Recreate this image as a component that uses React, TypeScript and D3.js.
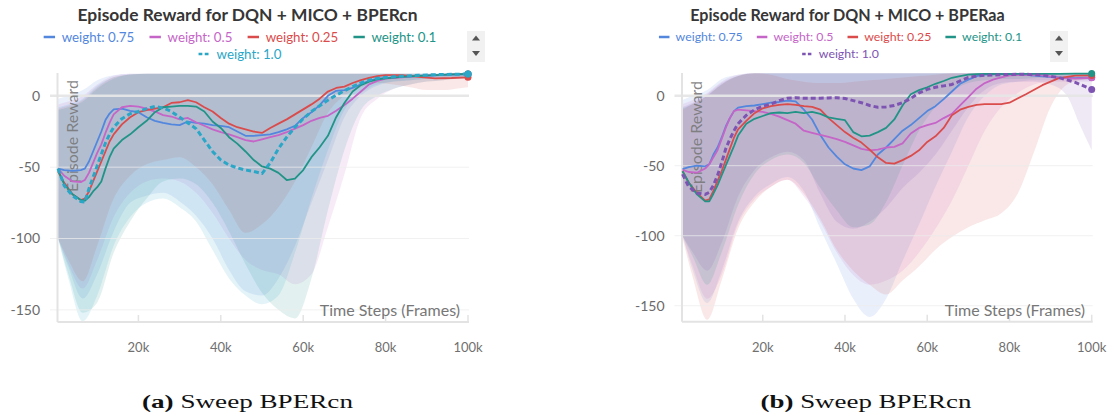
import React from 'react';
import * as d3 from 'd3';

// Time steps (thousands of frames) at which the smoothed mean curves are sampled
const lineSteps = [
  0.5, 2, 4, 6, 7, 8, 9, 10, 11, 12, 13, 14,
  16, 18, 20, 22, 24, 26, 28, 30, 32, 34, 36, 38, 40, 42, 44, 46, 48, 50,
  52, 54, 56, 58, 60, 62, 64, 66, 68, 70, 72, 74, 76, 78, 80,
  84, 88, 92, 96, 100,
];

// Time steps (thousands of frames) at which the min/max envelopes are sampled
const bandSteps = [0.5, 3, 6.5, 10, 14, 18, 22, 26, 30, 34, 38, 42, 46, 50, 54, 58, 62, 66, 70, 74, 78, 82, 86, 90, 94, 97, 100];

const weightLabels = ['weight: 0.75', 'weight: 0.5', 'weight: 0.25', 'weight: 0.1', 'weight: 1.0'];

const yTicks = [0, -50, -100, -150];
const xTicks = [20, 40, 60, 80, 100];
const xTickLabels = ['20k', '40k', '60k', '80k', '100k'];

// ---- DQN + MICO + BPERcn ----
const cnMean075 = [
  -51, -52, -52.6, -52, -51, -46, -39, -32, -25, -17, -12.4, -9.5,
  -9, -10.5, -11.5, -15, -17.5, -19, -20, -20.5, -18, -19, -19.5, -20.5, -21, -22, -25, -28, -28, -27.5,
  -27, -25.5, -23.5, -21, -15.5, -11.5, -6.5, 0, 3.5, 4, 5.5, 8, 10.5, 12, 12.5,
  13.3, 13.8, 14.3, 14.8, 15.2,
];
const cnMean05 = [
  -51, -56, -60, -60.5, -59, -54, -47, -40, -34, -26, -19, -13,
  -8, -7, -7.5, -9, -11, -13.5, -14.5, -16.5, -15.5, -18.5, -21, -23.5, -25.5, -27, -29, -31, -32, -30.5,
  -29, -27.5, -25.5, -23, -20.5, -17.5, -15.5, -14, -10.5, -6.5, -2, 3, 8, 10.5, 12,
  13, 14, 14.5, 15, 15.3,
];
const cnMean025 = [
  -53, -61, -69, -73, -72, -67, -60, -53, -46, -39, -32, -27,
  -20, -15, -11.5, -10, -9, -8, -5, -4.5, -3, -4.5, -8, -11, -15.5, -19.5, -22, -23.5, -25, -26,
  -22.5, -19.5, -16.5, -13, -9.5, -6, -2, 3, 5.5, 6.5, 9, 11, 12.5, 13.8, 14.5,
  14.5, 13.3, 12.3, 12.5, 13,
];
const cnMean01 = [
  -52, -62, -69, -73, -73.5, -71, -67, -64, -60, -51, -43, -37,
  -31, -27, -22, -17.5, -11.5, -8, -7.5, -7, -7, -7.5, -11, -18, -22.5, -29, -33.5, -39, -45, -49.5,
  -51, -54, -59, -58, -52, -43, -36, -28, -15, -5, 3, 7.5, 10, 11.5, 12.3,
  13.3, 14, 14.5, 15, 15.3,
];
const cnMean10 = [
  -51, -63, -70, -74, -74.5, -65, -57, -49, -41, -33, -27, -22,
  -16, -12.5, -11, -9, -7.5, -8.5, -11, -15, -19, -23, -31, -39, -45, -48.5, -50.5, -52, -53, -54.5,
  -47, -37, -29, -22, -16, -11, -7, -3, 0.5, 3.5, 6.5, 9, 11, 12.3, 13,
  13.8, 14.4, 14.8, 15.1, 15.3,
];

const cnHi075 = [-2, 0, 4, 11, 14.5, 15.5, 15.5, 15.5, 15.5, 15.5, 15.5, 15.5, 15.5, 15.5, 15.5, 15.5, 15.5, 15.5, 15.5, 15.5, 15.5, 15.5, 15.5, 15.5, 15.5, 15.5, 15.5];
const cnLo075 = [-100, -120, -142, -125, -95, -75, -70, -68, -74, -84, -100, -122, -137, -140, -128, -105, -75, -45, -15, 0, 7, 10, 11, 12, 12.5, 13, 13.5];
const cnHi05 = [-6, -4, 0, 8, 14, 15.5, 15.5, 15.5, 15.5, 15.5, 15.5, 15.5, 15.5, 15.5, 15.5, 15.5, 15.5, 15.5, 15.5, 15.5, 15.5, 15.5, 15.5, 15.5, 15.5, 15.5, 15.5];
const cnLo05 = [-100, -118, -135, -115, -85, -68, -60, -58, -60, -68, -82, -100, -115, -122, -125, -132, -125, -92, -55, -15, -2, 5, 8, 10, 11, 12, 12];
const cnHi025 = [-9, -7, -3, 6, 13, 15, 15.5, 15.5, 15.5, 15.5, 15.5, 15.5, 15.5, 15.5, 15.5, 15.5, 15.5, 15.5, 15.5, 15.5, 15.5, 15.5, 15.5, 15, 15, 15, 15];
const cnLo025 = [-100, -115, -130, -105, -72, -56, -48, -45, -43, -50, -62, -80, -96, -90, -78, -60, -36, -12, 0, 6, 9, 8, 6, 4, 4, 5, 6];
const cnHi01 = [-10, -8, -4, 5, 12, 15, 15.5, 15.5, 15.5, 15.5, 15.5, 15.5, 15.5, 15.5, 15.5, 15.5, 15.5, 15.5, 15.5, 15.5, 15.5, 15.5, 15.5, 15.5, 15.5, 15.5, 15.5];
const cnLo01 = [-100, -125, -152, -145, -110, -88, -72, -60, -58, -62, -75, -95, -118, -138, -150, -156, -128, -80, -38, -10, 0, 5, 8, 10, 11, 12, 12.5];
const cnHi10 = [-8, -6, -2, 7, 13, 15, 15.5, 15.5, 15.5, 15.5, 15.5, 15.5, 15.5, 15.5, 15.5, 15.5, 15.5, 15.5, 15.5, 15.5, 15.5, 15.5, 15.5, 15.5, 15.5, 15.5, 15.5];
const cnLo10 = [-100, -128, -158, -140, -105, -85, -75, -72, -78, -88, -108, -128, -140, -146, -140, -110, -72, -38, -10, 2, 8, 10, 11, 12, 12.5, 13, 13.5];

// ---- DQN + MICO + BPERaa ----
const aaMean075 = [
  -52.5, -51, -50, -50.5, -49, -42, -37, -30, -22, -16, -11, -8.5,
  -7.5, -7, -6, -5, -4.5, -3.5, -4, -10, -17, -28, -37, -43.5, -49, -52, -53.2, -50.5, -42, -37,
  -31, -25, -21, -16, -11, -7.5, -2.5, 3, 8.5, 11.5, 14, 15, 15.3, 15.5, 15.5,
  14.8, 13.8, 13, 12.5, 13,
];
const aaMean05 = [
  -53, -54.5, -55, -52, -49, -44, -39, -31, -23, -16, -11, -10,
  -10.5, -11, -11.5, -13, -15, -17.5, -20, -25, -26.5, -28, -29.5, -31, -33, -35.5, -38, -39, -38.5, -37,
  -36.5, -34, -27, -23, -21, -19.5, -16, -13, -7, -1, 5, 9, 11.5, 13, 14.5,
  15, 14.5, 12.8, 12.2, 12.8,
];
const aaMean025 = [
  -54, -62, -69.5, -75, -74, -68, -61, -54, -46, -38, -30, -24,
  -18, -12.5, -9, -7.5, -6.5, -6, -6.5, -7.5, -8, -10, -16, -21, -26, -30, -33.5, -38.5, -44, -48,
  -48.5, -46, -43, -39, -33, -29, -23, -14, -10, -8, -6.5, -6, -6, -6, -5,
  1, 7.5, 12.5, 14.3, 14.5,
];
const aaMean01 = [
  -54, -62, -70.5, -75.5, -75.5, -70, -64, -57, -50, -43, -36, -28.5,
  -20, -16.5, -14.5, -12.5, -12, -12.5, -11.5, -12.5, -11.5, -13, -15.5, -16.5, -17.5, -26, -29, -28.5, -26, -23,
  -17, -7, 1, 4, 6, 8.5, 10.5, 12.8, 14, 15, 15.3, 15.5, 15.5, 15.5, 15.5,
  15.6, 15.6, 15.6, 15.7, 15.8,
];
const aaMean10 = [
  -56, -65, -69.5, -70.5, -69, -64, -57, -48, -38, -31, -25, -20,
  -14, -10, -7.5, -6, -3.5, -1.8, -1.5, -1.8, -1.8, -1.8, -1.6, -1.5, -2, -3.5, -5, -7, -8.3, -8,
  -7, -5, -2, 2, 4.5, 6, 7, 8, 10.5, 13, 14, 14.6, 14.8, 15, 15.2,
  15.3, 14.6, 13, 9.5, 4.5,
];

const aaHi075 = [-3, 0, 4, 12, 15, 16, 16, 16, 16, 16, 16, 16, 16, 16, 16, 16, 16, 16, 16, 16, 16, 16, 16, 16, 16, 16, 16];
const aaLo075 = [-100, -125, -148, -125, -90, -72, -63, -58, -68, -95, -120, -145, -158, -145, -118, -92, -65, -40, -15, 0, 8, 10, 11, 11, 11, 11, 11];
const aaHi05 = [-6, -3, 2, 10, 15, 16, 16, 16, 16, 16, 16, 16, 16, 16, 16, 16, 16, 16, 16, 16, 16, 16, 16, 16, 16, 16, 16];
const aaLo05 = [-100, -122, -145, -128, -92, -74, -65, -60, -72, -90, -112, -128, -135, -132, -125, -112, -95, -75, -50, -25, -8, 2, 8, 10, 10, 10, 10];
const aaHi025 = [-10, -6, 0, 8, 14, 16, 15, 12, 10, 9, 9, 10, 11, 12, 13, 14, 15, 16, 16, 16, 16, 16, 16, 16, 16, 16, 16];
const aaLo025 = [-102, -130, -160, -132, -95, -76, -65, -60, -70, -88, -110, -125, -135, -142, -132, -122, -110, -101, -94, -89, -84, -70, -40, -8, 8, 11, 12];
const aaHi01 = [-9, -6, 0, 8, 14, 16, 16, 16, 16, 16, 16, 16, 16, 16, 16, 16, 16, 16, 16, 16, 16, 16, 16, 16, 16, 16, 16];
const aaLo01 = [-100, -115, -135, -112, -78, -56, -46, -42, -48, -66, -82, -94, -92, -76, -50, -25, -8, 3, 9, 11, 12, 12, 12.5, 13, 13, 13, 13.5];
const aaHi10 = [-8, -5, 1, 9, 14, 16, 16, 16, 16, 16, 16, 16, 16, 16, 16, 16, 16, 16, 16, 16, 16, 16, 16, 16, 15, 14, 13];
const aaLo10 = [-100, -112, -125, -105, -72, -53, -44, -40, -46, -70, -90, -95, -90, -80, -66, -55, -42, -25, -8, 4, 9, 10, 10, 8, 0, -20, -39];

const BLUE = '#5387DD';
const PINK = '#C565C7';
const RED = '#DA4C4C';
const GREEN = '#229487';
const CYAN = '#2AA6C6';
const PURPLE = '#7D54B2';

type Series = { label: string; color: string; mean: number[]; lo: number[]; hi: number[]; dashed: boolean };

const cnSeries: Series[] = [
  { label: weightLabels[0], color: BLUE, mean: cnMean075, lo: cnLo075, hi: cnHi075, dashed: false },
  { label: weightLabels[1], color: PINK, mean: cnMean05, lo: cnLo05, hi: cnHi05, dashed: false },
  { label: weightLabels[2], color: RED, mean: cnMean025, lo: cnLo025, hi: cnHi025, dashed: false },
  { label: weightLabels[3], color: GREEN, mean: cnMean01, lo: cnLo01, hi: cnHi01, dashed: false },
  { label: weightLabels[4], color: CYAN, mean: cnMean10, lo: cnLo10, hi: cnHi10, dashed: true },
];
const aaSeries: Series[] = [
  { label: weightLabels[0], color: BLUE, mean: aaMean075, lo: aaLo075, hi: aaHi075, dashed: false },
  { label: weightLabels[1], color: PINK, mean: aaMean05, lo: aaLo05, hi: aaHi05, dashed: false },
  { label: weightLabels[2], color: RED, mean: aaMean025, lo: aaLo025, hi: aaHi025, dashed: false },
  { label: weightLabels[3], color: GREEN, mean: aaMean01, lo: aaLo01, hi: aaHi01, dashed: false },
  { label: weightLabels[4], color: PURPLE, mean: aaMean10, lo: aaLo10, hi: aaHi10, dashed: true },
];

const FONT = "Lato, 'Open Sans', sans-serif";
const SERIF = "'Liberation Serif', 'DejaVu Serif', serif";
const CAPTION_SIZE = 18;

let measureCtx: CanvasRenderingContext2D | null = null;
function textWidth(text: string, font: string, fallbackSize: number): number {
  if (!measureCtx) measureCtx = document.createElement('canvas').getContext('2d');
  if (!measureCtx) return text.length * fallbackSize * 0.5;
  measureCtx.font = font;
  return measureCtx.measureText(text).width;
}

type PanelCfg = {
  title: string;
  captionTag: string;
  captionText: string;
  series: Series[];
  x0: number; x1: number;
  yTop: number; yBot: number;
  yMin: number; yMax: number;
  titleX: number; titleSize: number;
  legendCx: number; legendSize: number;
  scrollX: number;
  yTitleX: number; yTitleCy: number;
  xTitleRight: number;
  captionX: number; captionWidth: number;
};

const panels: PanelCfg[] = [
  {
    title: 'Episode Reward for DQN + MICO + BPERcn',
    captionTag: '(a)', captionText: ' Sweep BPERcn',
    series: cnSeries,
    x0: 56, x1: 468, yTop: 73, yBot: 322, yMin: -158.5, yMax: 16,
    titleX: 247.5, titleSize: 17.4, legendCx: 240, legendSize: 13.3, scrollX: 467,
    yTitleX: 72, yTitleCy: 136, xTitleRight: 460, captionX: 247.5, captionWidth: 211,
  },
  {
    title: 'Episode Reward for DQN + MICO + BPERaa',
    captionTag: '(b)', captionText: ' Sweep BPERcn',
    series: aaSeries,
    x0: 680.5, x1: 1091.7, yTop: 73, yBot: 321.7, yMin: -161.4, yMax: 16.2,
    titleX: 847.5, titleSize: 16.1, legendCx: 840.5, legendSize: 12.3, scrollX: 1050,
    yTitleX: 696, yTitleCy: 137, xTitleRight: 1085, captionX: 866, captionWidth: 211,
  },
];

const legendRows = [[0, 1, 2, 3], [4]];

function Legend({ p }: { p: PanelCfg }) {
  const s = p.legendSize / 14;
  const lineLen = 12 * s;
  const gap = 7 * s;
  const itemGap = 16 * s;
  const rowY = [37, 54];
  const out: React.ReactNode[] = [];
  legendRows.forEach((row, r) => {
    const widths = row.map((i) => lineLen + gap + textWidth(p.series[i].label, `400 ${p.legendSize}px Lato`, p.legendSize));
    const total = d3.sum(widths) + itemGap * (row.length - 1);
    let cx = p.legendCx - total / 2;
    row.forEach((i, k) => {
      const sr = p.series[i];
      out.push(
        <g key={`${r}-${i}`}>
          <line x1={cx} x2={cx + lineLen} y1={rowY[r]} y2={rowY[r]} stroke={sr.color} strokeWidth={2.5}
            strokeDasharray={sr.dashed ? `${4 * s} ${2.5 * s}` : undefined} />
          <text x={cx + lineLen + gap} y={rowY[r]} dy="0.35em" fontFamily={FONT} fontSize={p.legendSize} fill={sr.color}>{sr.label}</text>
        </g>
      );
      cx += widths[k] + itemGap;
    });
  });
  return <g>{out}</g>;
}

function Caption({ p }: { p: PanelCfg }) {
  // The caption face is wider than the available serif; stretch it horizontally to its set width.
  const natural =
    textWidth(p.captionTag, `700 ${CAPTION_SIZE}px 'Liberation Serif'`, CAPTION_SIZE) +
    textWidth(p.captionText, `400 ${CAPTION_SIZE}px 'Liberation Serif'`, CAPTION_SIZE);
  const sx = natural > 0 ? p.captionWidth / natural : 1;
  return (
    <g transform={`translate(${p.captionX - p.captionWidth / 2},408) scale(${sx},1)`}>
      <text x={0} y={0} fontFamily={SERIF} fontSize={CAPTION_SIZE} fill="#111" style={{ whiteSpace: 'pre' }}>
        <tspan fontWeight={700}>{p.captionTag}</tspan>
        <tspan>{p.captionText}</tspan>
      </text>
    </g>
  );
}

function Panel({ p }: { p: PanelCfg }) {
  const x = d3.scaleLinear().domain([0, 100]).range([p.x0, p.x1]);
  const y = d3.scaleLinear().domain([p.yMin, p.yMax]).range([p.yBot, p.yTop]);
  const idxL = d3.range(lineSteps.length);
  const idxB = d3.range(bandSteps.length);

  const bandPath = (s: Series) =>
    d3.area<number>()
      .x((i) => x(bandSteps[i]))
      .y0((i) => y(s.lo[i]))
      .y1((i) => y(s.hi[i]))
      .curve(d3.curveMonotoneX)(idxB) || '';
  const linePath = (s: Series) =>
    d3.line<number>()
      .x((i) => x(lineSteps[i]))
      .y((i) => y(s.mean[i]))(idxL) || '';

  const axisX = p.x0 + 1.5;
  const sx = p.scrollX;

  return (
    <g>
      <text x={p.titleX} y={21} textAnchor="middle" fontFamily={FONT} fontWeight={700} fontSize={p.titleSize} fill="#363636">{p.title}</text>
      <Legend p={p} />
      <rect x={sx} y={31} width={18} height={31} fill="#f1f1f1" />
      <path d={`M${sx + 5},${40.5} L${sx + 13},${40.5} L${sx + 9},${35.5} Z`} fill="#555" />
      <path d={`M${sx + 5},${51} L${sx + 13},${51} L${sx + 9},${56} Z`} fill="#555" />

      {p.series.map((s, i) => (
        <path key={`b${i}`} d={bandPath(s)} fill={s.color} fillOpacity={0.13} stroke="none" />
      ))}

      {yTicks.map((t) => (
        <g key={`g${t}`}>
          <line x1={p.x0 - 6} x2={p.x1 + 1} y1={y(t)} y2={y(t)} stroke={t === 0 ? '#e6e6e6' : '#ececec'}
            strokeOpacity={t === 0 ? 0.95 : 0.75} strokeWidth={t === 0 ? 2.5 : 1} />
          <text x={p.x0 - 16} y={y(t)} dy="0.35em" textAnchor="end" fontFamily={FONT} fontSize={14} fill="#6a6a6a">{t}</text>
        </g>
      ))}

      <line x1={axisX} x2={axisX} y1={p.yTop} y2={p.yBot} stroke="#e3e3e3" strokeWidth={2} />
      <line x1={axisX} x2={p.x1 + 1} y1={p.yBot} y2={p.yBot} stroke="#e3e3e3" strokeWidth={2} />
      {xTicks.map((t, i) => (
        <g key={`x${t}`}>
          <line x1={x(t)} x2={x(t)} y1={p.yBot - 7} y2={p.yBot} stroke="#e3e3e3" strokeWidth={1.5} />
          <text x={x(t)} y={351.5} textAnchor="middle" fontFamily={FONT} fontSize={13} fill="#707070">{xTickLabels[i]}</text>
        </g>
      ))}

      <text transform={`translate(${p.yTitleX},${p.yTitleCy}) rotate(-90)`} textAnchor="middle" dy="0.35em"
        fontFamily={FONT} fontSize={16} fill="#777" fillOpacity={0.9}>Episode Reward</text>
      <text x={p.xTitleRight} y={316} textAnchor="end" fontFamily={FONT} fontSize={16} fill="#777">Time Steps (Frames)</text>

      {p.series.map((s, i) => (
        <path key={`l${i}`} d={linePath(s)} fill="none" stroke={s.color}
          strokeWidth={s.dashed ? 3 : 1.8} strokeDasharray={s.dashed ? '5 3' : undefined} strokeLinejoin="round" />
      ))}
      {p.series.map((s, i) => (
        <circle key={`d${i}`} cx={x(lineSteps[lineSteps.length - 1])} cy={y(s.mean[s.mean.length - 1])} r={3.5} fill={s.color} />
      ))}

      <Caption p={p} />
    </g>
  );
}

export default function App() {
  return (
    <svg width={1115} height={419} viewBox="0 0 1115 419"
      style={{ position: 'absolute', left: 0, top: 0, display: 'block', background: '#fff' }}>
      <rect width={1115} height={419} fill="#fff" />
      {panels.map((p, i) => <Panel key={i} p={p} />)}
    </svg>
  );
}
